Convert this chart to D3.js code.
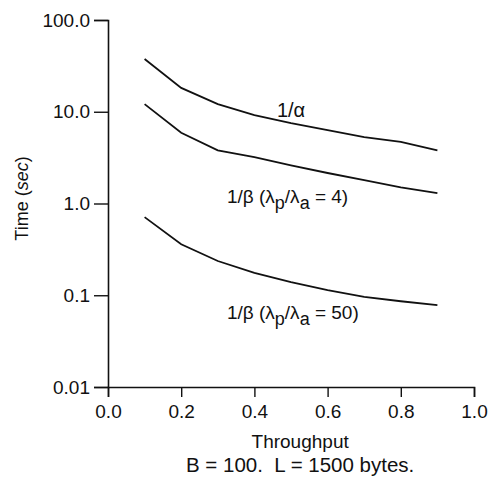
<!DOCTYPE html>
<html>
<head>
<meta charset="utf-8">
<script src="https://cdn.jsdelivr.net/npm/d3@7"></script>
<style>
  body { margin: 0; background: #fff; }
  text { font-family: "Liberation Sans", Arial, sans-serif; fill: #111; }
</style>
</head>
<body>
<div id="chart"></div>
<script>
// data
var throughput = [0.1, 0.2, 0.3, 0.4, 0.5, 0.6, 0.7, 0.8, 0.9];
var alphaTime = [37.6, 18.2, 12.1, 9.2, 7.5, 6.3, 5.3, 4.7, 3.8];
var beta4Time = [12.1, 5.9, 3.8, 3.2, 2.6, 2.15, 1.8, 1.5, 1.3];
var beta50Time = [0.71, 0.36, 0.236, 0.175, 0.139, 0.114, 0.096, 0.086, 0.078];
var xTicks = [0, 0.2, 0.4, 0.6, 0.8, 1.0];
var xTickLabels = ["0.0", "0.2", "0.4", "0.6", "0.8", "1.0"];
var yTicks = [100, 10, 1, 0.1, 0.01];
var yTickLabels = ["100.0", "10.0", "1.0", "0.1", "0.01"];

var width = 493, height = 494;
var margin = {top: 20, right: 19, bottom: 107, left: 108};

var svg = d3.select("#chart")
  .append("svg")
    .attr("width", width)
    .attr("height", height);

var x = d3.scaleLinear()
  .domain([0, 1])
  .range([margin.left, width - margin.right]);

var y = d3.scaleLog()
  .domain([0.01, 100])
  .range([height - margin.bottom, margin.top]);

// x axis
var xAxis = svg.append("g")
  .attr("transform", "translate(0," + y(0.01) + ")")
  .call(d3.axisBottom(x)
    .tickValues(xTicks)
    .tickSize(10)
    .tickPadding(8)
    .tickFormat(function(d, i) { return xTickLabels[i]; }));

// y axis
var yAxis = svg.append("g")
  .attr("transform", "translate(" + x(0) + ",0)")
  .call(d3.axisLeft(y)
    .tickValues(yTicks)
    .tickSize(14)
    .tickPadding(4)
    .tickFormat(function(d, i) { return yTickLabels[i]; }));

[xAxis, yAxis].forEach(function(g) {
  g.select(".domain").attr("stroke", "#111").attr("stroke-width", 1.6);
  g.selectAll(".tick line").attr("stroke", "#111").attr("stroke-width", 1.4);
  g.selectAll(".tick text")
    .attr("font-size", 19)
    .attr("font-family", "Liberation Sans, Arial, sans-serif")
    .attr("fill", "#111");
});

// curves
var line = d3.line()
  .x(function(d) { return x(d[0]); })
  .y(function(d) { return y(d[1]); });

[alphaTime, beta4Time, beta50Time].forEach(function(series) {
  svg.append("path")
    .datum(d3.zip(throughput, series))
    .attr("fill", "none")
    .attr("stroke", "#111")
    .attr("stroke-width", 1.8)
    .attr("d", line);
});

// curve labels
svg.append("text")
  .attr("x", x(0.5))
  .attr("y", y(8.8))
  .attr("text-anchor", "middle")
  .attr("font-size", 20)
  .text("1/\u03b1");

function betaLabel(xv, yv, ratio) {
  var t = svg.append("text")
    .attr("x", x(xv))
    .attr("y", y(yv))
    .attr("font-size", 19);
  t.append("tspan").text("1/\u03b2 (\u03bb");
  t.append("tspan").attr("dy", 6).attr("font-size", 18).text("p");
  t.append("tspan").attr("dy", -6).text("/\u03bb");
  t.append("tspan").attr("dy", 6).attr("font-size", 18).text("a");
  t.append("tspan").attr("dy", -6).text(" = " + ratio + ")");
}
betaLabel(0.325, 1.02, 4);
betaLabel(0.325, 0.055, 50);

// axis titles
svg.append("text")
  .attr("transform", "translate(28," + ((y(100) + y(0.01)) / 2 - 5) + ") rotate(-90)")
  .attr("text-anchor", "middle")
  .attr("font-size", 18)
  .call(function(t) {
    t.append("tspan").text("Time (");
    t.append("tspan").attr("font-style", "italic").text("sec");
    t.append("tspan").text(")");
  });

svg.append("text")
  .attr("x", x(0.525))
  .attr("y", 448)
  .attr("text-anchor", "middle")
  .attr("font-size", 19)
  .text("Throughput");

svg.append("text")
  .attr("x", x(0.525))
  .attr("y", 472)
  .attr("text-anchor", "middle")
  .attr("font-size", 20.5)
  .text("B = 100.\u00a0 L = 1500 bytes.");
</script>
</body>
</html>
